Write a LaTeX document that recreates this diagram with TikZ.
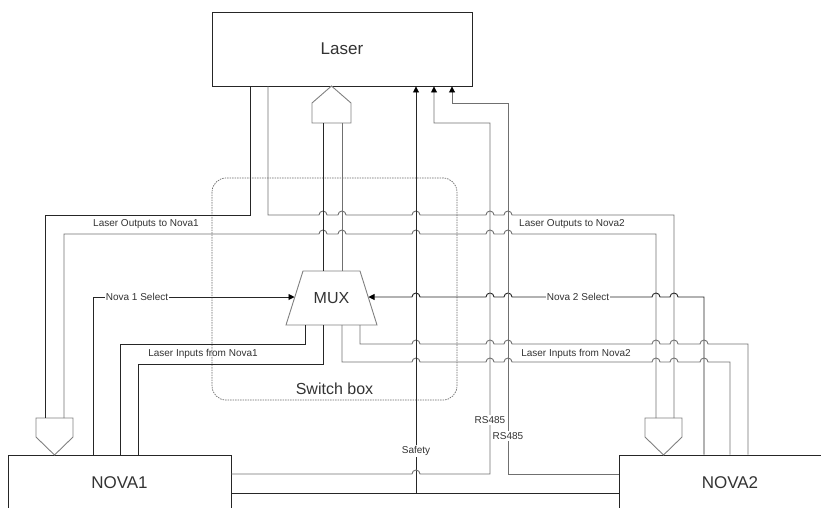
\documentclass[tikz,border=0pt]{standalone}
\usepackage{fontspec}
\setmainfont{Liberation Sans}
\usetikzlibrary{arrows.meta}
\definecolor{WireDark}{HTML}{262626}
\definecolor{WireLight}{HTML}{707070}
\definecolor{OutlineGray}{HTML}{808080}
\definecolor{DashGray}{HTML}{6A6A6A}
\definecolor{LabelText}{HTML}{333333}
\newcommand{\hopR}[2]{-- ({#1-4},#2) arc[start angle=180,end angle=360,radius=4]}
\newcommand{\hopL}[2]{-- ({#1+4},#2) arc[start angle=360,end angle=180,radius=4]}

\begin{document}
\begin{tikzpicture}[x=1pt,y=-1pt,
      box/.style={draw=WireDark,fill=white,line width=0.9pt,inner sep=0pt,
                  font=\fontsize{17}{20}\selectfont,text=LabelText},
      wire/.style={draw=WireDark,line width=0.9pt},
      wirelt/.style={draw=WireLight,line width=0.9pt},
      pent/.style={draw=OutlineGray,fill=white,line width=0.9pt},
      go/.style={-{Triangle[length=6pt,width=6pt,color=black]}},
      lbl/.style={font=\fontsize{10}{12}\selectfont,text=LabelText,inner sep=1pt},
      lblw/.style={lbl,fill=white},
      swbox/.style={draw=DashGray,line width=0.7pt,dash pattern=on 1.5pt off 1pt,
                    rounded corners=14pt}]
    \useasboundingbox (0,0) rectangle (821,507);
    \clip (0,0) rectangle (821,507);

    \draw[swbox] (212,178) rectangle (457,400);
    \node[font=\fontsize{16}{19}\selectfont,text=LabelText] (swlabel) at (334.5,389) {Switch box};

    \node[box,minimum width=260,minimum height=74] (laser) at (342,49) {Laser};
    \node[box,minimum width=223,minimum height=55] (nova1) at (119.5,482.5) {NOVA1};
    \node[box,minimum width=222,minimum height=55] (nova2) at (730,482.5) {NOVA2};

    \draw[pent] (312,123) -- (312,103) -- (331.5,86) -- (351,103) -- (351,123) -- cycle;
    \draw[pent] (36,418) -- (73,418) -- (73,437) -- (54.5,455) -- (36,437) -- cycle;
    \draw[pent] (645,418) -- (682,418) -- (682,437) -- (663.5,455) -- (645,437) -- cycle;

    \draw[pent] (303,271) -- (360,271) -- (377,325) -- (286,325) -- cycle;
    \node[font=\fontsize{16}{19}\selectfont,text=LabelText] (mux) at (331.5,298) {MUX};

    \draw[wire] (laser.south -| 250,0) -- (250,215) -- (45,215) -- (45,418);
    \draw[wirelt] (laser.south -| 268,0) -- (268,215) \hopR{323}{215} \hopR{342}{215}
      \hopR{416}{215} \hopR{490}{215} \hopR{508}{215} -- (674,215) -- (674,418);
    \draw[wirelt] (64,418) -- (64,234) \hopR{323}{234} \hopR{342}{234}
      \hopR{416}{234} \hopR{490}{234} \hopR{508}{234} -- (656,234) -- (656,418);
    \node[lbl] (out1) at (146,224) {Laser Outputs to Nova1};
    \node[lbl] (out2) at (572,224) {Laser Outputs to Nova2};

    \draw[wire] (323,123) -- (323,271);
    \draw[wirelt] (342,123) -- (342,271);

    \draw[wire,go] (nova1.north -| 93,0) -- (93,297) -- (294.5,297);
    \node[lblw] (sel1) at (137,297) {Nova 1 Select};
    \draw[wire,go] (nova2.north -| 704,0) -- (704,297) \hopL{674}{297} \hopL{656}{297}
      \hopL{508}{297} \hopL{490}{297} \hopL{416}{297} -- (368.5,297);
    \node[lblw] (sel2) at (578,297) {Nova 2 Select};

    \draw[wire] (305,325) -- (305,344) -- (120,344) -- (nova1.north -| 120,0);
    \draw[wire] (323,325) -- (323,364) -- (138,364) -- (nova1.north -| 138,0);
    \draw[wirelt] (342,325) -- (342,362) \hopR{416}{362} \hopR{490}{362} \hopR{508}{362}
      \hopR{656}{362} \hopR{674}{362} \hopR{704}{362} -- (730,362) -- (nova2.north -| 730,0);
    \draw[wirelt] (360,325) -- (360,344) \hopR{416}{344} \hopR{490}{344} \hopR{508}{344}
      \hopR{656}{344} \hopR{674}{344} \hopR{704}{344} -- (748,344) -- (nova2.north -| 748,0);
    \node[lbl] (in1) at (203,354) {Laser Inputs from Nova1};
    \node[lbl] (in2) at (576,354) {Laser Inputs from Nova2};

    \draw[wire] (nova1.east |- 0,493) -- (nova2.west |- 0,493);
    \draw[wire,go] (416,493) -- (laser.south -| 416,0);
    \node[lblw] (safety) at (416,451) {Safety};

    \draw[wirelt,go] (nova1.east |- 0,474) \hopR{416}{474} -- (490,474) -- (490,123)
      -- (434,123) -- (laser.south -| 434,0);
    \node[lblw] (rsa) at (490,420) {RS485};
    \draw[wirelt,go] (nova2.west |- 0,474) -- (508,474) -- (508,103)
      -- (452,103) -- (laser.south -| 452,0);
    \node[lblw] (rsb) at (508,436) {RS485};
  \end{tikzpicture}
\end{document}
